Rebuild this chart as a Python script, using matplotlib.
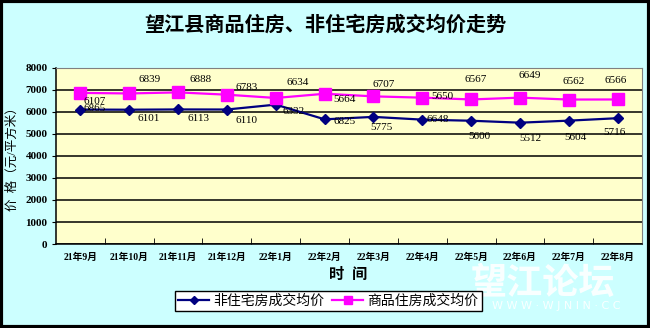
import numpy as np
import matplotlib
matplotlib.use("Agg")
import matplotlib.pyplot as plt
from matplotlib.patches import Rectangle

plt.rcParams['font.family'] = ['Liberation Serif', 'Noto Sans CJK SC', 'DejaVu Sans']

months = ['21年9月', '21年10月', '21年11月', '21年12月', '22年1月', '22年2月',
          '22年3月', '22年4月', '22年5月', '22年6月', '22年7月', '22年8月']
nonres_price = [6107, 6101, 6113, 6110, 6332, 5664, 5775, 5650, 5600, 5512, 5604, 5716]
res_price = [6865, 6839, 6888, 6783, 6634, 6825, 6707, 6648, 6567, 6649, 6562, 6566]

# label offsets in pixels (dx, dy) from each marker
res_off = [(14, -16), (20, 14), (23, 13), (20, 7), (22, 15), (20, -28),
           (10, 12), (15, -22), (4, 20), (10, 22), (5, 18), (-2, 19)]
nonres_off = [(14, 8), (20, -9), (20, -9), (20, -11), (18, -7), (20, 20),
              (8, -11), (20, 23), (8, -16), (10, -16), (7, -17), (-3, -14)]

fig = plt.figure(figsize=(6.5, 3.28), dpi=100, facecolor='#CCFFFF')
fig.patches.append(Rectangle((0.002, 0.004), 0.996, 0.992, transform=fig.transFigure,
                             fill=False, edgecolor='black', linewidth=3))

ax = fig.add_axes([0.086, 0.256, 0.902, 0.537])
ax.set_facecolor('#FFFFCC')

x = np.arange(len(months))
ax.plot(x, nonres_price, color='#000080', marker='D', markersize=5.5, linewidth=1.6,
        label='非住宅房成交均价', zorder=3)
ax.plot(x, res_price, color='#FF00FF', marker='s', markersize=8, linewidth=1.6,
        label='商品住房成交均价', zorder=3)

for i in range(len(months)):
    ax.annotate(str(res_price[i]), (x[i], res_price[i]), xytext=res_off[i],
                textcoords='offset pixels', ha='center', va='center', fontsize=8, zorder=4)
    ax.annotate(str(nonres_price[i]), (x[i], nonres_price[i]), xytext=nonres_off[i],
                textcoords='offset pixels', ha='center', va='center', fontsize=8, zorder=4)

ax.set_xlim(-0.5, len(months) - 0.5)
ax.set_ylim(0, 8000)
ax.set_yticks(range(0, 8001, 1000))
ax.yaxis.grid(True, color='black', linewidth=1.1)
ax.set_axisbelow(True)

ax.set_xticks(x)
ax.set_xticklabels(months, fontsize=7, fontweight='bold')
ax.set_xticks(np.arange(0.5, len(months) - 0.5, 1), minor=True)
ax.tick_params(axis='x', which='major', length=0, pad=6)
ax.tick_params(axis='x', which='minor', direction='in', length=4, color='black')
ax.tick_params(axis='y', labelsize=8, length=3, pad=3)
for lab in ax.get_yticklabels():
    lab.set_fontweight('bold')

for side in ['top', 'right']:
    ax.spines[side].set_color('#808080')
for side in ['left', 'bottom']:
    ax.spines[side].set_color('black')
    ax.spines[side].set_linewidth(1.1)

ax.set_ylabel('价  格（元/平方米）', fontsize=9, labelpad=5)
fig.text(0.535, 0.163, '时  间', ha='center', va='center', fontsize=11, fontweight='bold')
fig.text(0.5, 0.925, '望江县商品住房、非住宅房成交均价走势', ha='center', va='center',
         fontsize=14.5, fontweight='bold', family=['Noto Sans CJK SC'])

leg = fig.legend(loc='center', bbox_to_anchor=(0.505, 0.083), ncol=2,
                 fontsize=10, frameon=True, fancybox=False, edgecolor='black',
                 facecolor='white', framealpha=1, handlelength=2.2, columnspacing=0.6,
                 handletextpad=0.3, borderpad=0.25, borderaxespad=0, markerscale=0.75)
leg.get_frame().set_linewidth(1.0)

# site watermark
fig.text(0.835, 0.137, '望江论坛', ha='center', va='center', fontsize=26, fontweight='bold',
         color='white', alpha=0.9, family=['Noto Sans CJK SC'])
fig.text(0.855, 0.068, 'W W W · W J N I N · C C', ha='center', va='center', fontsize=8,
         color='white', alpha=0.9, family=['DejaVu Sans'])

fig.savefig('out.png', dpi=100, facecolor=fig.get_facecolor())
